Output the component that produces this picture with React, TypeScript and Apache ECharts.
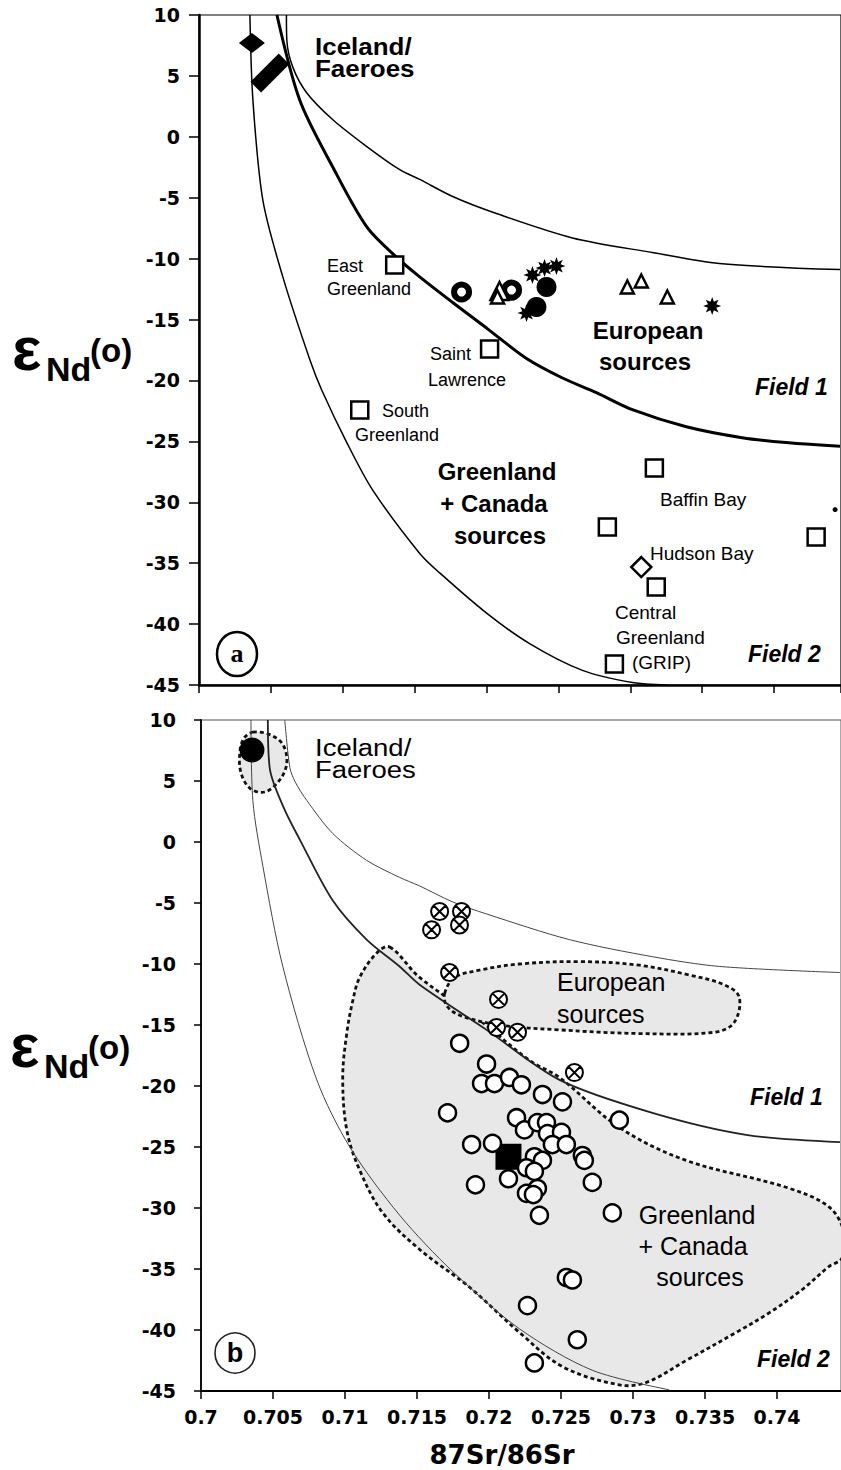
import React, { useEffect, useRef } from "react";
import * as echarts from "echarts";

// ---- axes ----
const X_MIN = 0.7;
const X_MAX_TOP = 0.74465;
const X_MAX_BOT = 0.74444;
const X_STEP = 0.005;
const Y_MIN = -45;
const Y_MAX = 10;
const Y_STEP = 5;
const X_AXIS_NAME = "87Sr/86Sr";

// ---- panel (a): mixing curves [87Sr/86Sr, eNd] ----
const topCurveLower = [[0.70354, 10], [0.70375, 3.0], [0.70444, -5.2], [0.70583, -11.5], [0.70771, -18.3], [0.70854, -20.8], [0.71028, -25.1], [0.71208, -29.0], [0.71535, -34.2], [0.71674, -35.8], [0.72, -39.1], [0.72299, -41.6], [0.72667, -43.8], [0.73014, -44.8], [0.7325, -45]];
const topCurveMid = [[0.70542, 10], [0.70701, 3.0], [0.70931, -2.5], [0.71167, -7.4], [0.71375, -9.9], [0.71535, -11.5], [0.71764, -13.6], [0.72, -15.7], [0.72278, -18.2], [0.72528, -19.8], [0.72764, -21.0], [0.73014, -22.4], [0.73389, -23.8], [0.73778, -24.7], [0.74083, -25.1], [0.74458, -25.4]];
const topCurveUpper = [[0.70608, 10], [0.70611, 7.9], [0.70653, 5.7], [0.7075, 3.6], [0.70931, 1.4], [0.71167, -0.8], [0.71396, -2.7], [0.71535, -3.5], [0.71764, -4.9], [0.72069, -6.3], [0.72597, -8.3], [0.73153, -9.5], [0.73618, -10.4], [0.74458, -10.9]];

// ---- panel (a): sources ----
const topSquares = [[0.71361, -10.53], [0.72021, -17.42], [0.71118, -22.43], [0.73167, -27.19], [0.7284, -32.04], [0.74292, -32.86], [0.7318, -36.96], [0.72889, -43.28]];
const topOpenDiamond = [[0.73076, -35.32]];
const topFilledDiamond = [[0.70368, 7.7]];
const topBar = [[0.70493, 5.24]];
const topRings = [[0.71826, -12.74], [0.72174, -12.58]];
const topTrianglesBig = [[0.7209, -12.66]];
const topTriangles = [[0.72076, -13.15], [0.72979, -12.33], [0.73076, -11.84], [0.73257, -13.15]];
const topFilledCircles = [[0.72417, -12.33], [0.72347, -13.97]];
const topAsterisks = [[0.72319, -11.35], [0.72403, -10.77], [0.72486, -10.61], [0.72278, -14.47], [0.73569, -13.89]];
const topDot = [[0.74424, -30.6]];

// ---- panel (b): mixing curves ----
const botCurveLower = [[0.70347, 10], [0.7036, 3.4], [0.7043, -2.0], [0.70568, -10.2], [0.70804, -19.5], [0.71033, -25.0], [0.7138, -30.6], [0.71747, -35.2], [0.72211, -39.9], [0.72717, -43.3], [0.73251, -44.9]];
const botCurveMid = [[0.70464, 10], [0.70478, 6.0], [0.70575, 2.8], [0.70686, 0.2], [0.70915, -4.8], [0.7115, -8.0], [0.71379, -10.2], [0.71518, -11.7], [0.71983, -15.4], [0.72489, -19.5], [0.73134, -22.2], [0.73785, -24.0], [0.74437, -24.6]];
const botCurveUpper = [[0.70582, 10], [0.70617, 6.1], [0.70655, 4.9], [0.70735, 3.4], [0.70915, 0.7], [0.7115, -1.5], [0.71379, -2.9], [0.71518, -3.6], [0.71745, -4.9], [0.71983, -5.9], [0.72558, -8.0], [0.73134, -9.4], [0.73599, -10.2], [0.74437, -10.7]];

// ---- panel (b): source fields ----
const botIcelandField = [[0.7036, 9.0], [0.70478, 8.8], [0.70568, 8.0], [0.70596, 6.5], [0.70548, 5.1], [0.70444, 4.1], [0.7034, 4.4], [0.70277, 5.7], [0.7027, 7.4], [0.70298, 8.5]];
const botEuropeField = [[0.71692, -12.4], [0.71761, -11.1], [0.71934, -10.5], [0.72211, -10.0], [0.72627, -9.8], [0.73043, -10.1], [0.7339, -10.9], [0.73633, -11.7], [0.73737, -12.7], [0.73702, -14.8], [0.73563, -15.6], [0.73043, -15.7], [0.72489, -15.4], [0.72073, -15.0], [0.71796, -14.2], [0.71705, -13.4]];
const botGreenlandField = [[0.7131, -8.6], [0.71518, -11.1], [0.71934, -14.6], [0.72281, -17.9], [0.72489, -19.3], [0.72905, -23.4], [0.73369, -26.1], [0.74062, -28.3], [0.7436, -29.9], [0.74465, -32.0], [0.74451, -34.1], [0.7436, -34.8], [0.74173, -36.7], [0.73945, -38.6], [0.73716, -40.2], [0.73369, -42.5], [0.73092, -44.3], [0.72905, -44.5], [0.7251, -43.0], [0.72211, -40.2], [0.71865, -36.5], [0.71518, -33.4], [0.71262, -30.4], [0.71102, -26.9], [0.71012, -23.6], [0.70984, -19.3], [0.71012, -15.7], [0.71054, -13.0], [0.71102, -11.1], [0.7122, -9.1]];

// ---- panel (b): samples ----
const botIcelandPoint = [[0.70354, 7.54]];
const botCrossed = [[0.71657, -5.7], [0.71809, -5.7], [0.71601, -7.2], [0.71795, -6.8], [0.71726, -10.7], [0.72066, -12.9], [0.72052, -15.2], [0.72198, -15.6], [0.72593, -18.9]];
const botOpen = [[0.71796, -16.5], [0.71983, -18.2], [0.71948, -19.8], [0.72038, -19.8], [0.72142, -19.3], [0.72225, -19.9], [0.72371, -20.7], [0.7251, -21.3], [0.71712, -22.2], [0.72191, -22.6], [0.72246, -23.6], [0.72336, -23.0], [0.72399, -23.0], [0.72406, -23.9], [0.72503, -23.8], [0.7244, -24.8], [0.72537, -24.8], [0.72648, -25.7], [0.72662, -26.1], [0.72905, -22.8], [0.71879, -24.8], [0.72024, -24.7], [0.72315, -25.8], [0.72371, -26.1], [0.7226, -26.7], [0.72315, -27.0], [0.72135, -27.6], [0.71906, -28.1], [0.72717, -27.9], [0.7226, -28.8], [0.72336, -28.4], [0.72308, -28.9], [0.7235, -30.6], [0.72856, -30.4], [0.72537, -35.7], [0.72579, -35.9], [0.72267, -38.0], [0.72613, -40.8], [0.72315, -42.7]];
const botSquare = [[0.72135, -25.8]];

// ---- annotation texts ----
const SANS = "'Liberation Sans', Arial, sans-serif";
const TICK_FONT = "'DejaVu Sans', sans-serif";

type Lbl = { t: string; x: number; y: number; s: number; w?: string; i?: boolean; a?: string; f?: string; sx?: number };
const labels: Lbl[] = [
  // panel a
  { t: "Iceland/", x: 315, y: 46, s: 22, w: "bold", sx: 1.18 },
  { t: "Faeroes", x: 315, y: 68, s: 22, w: "bold", sx: 1.18 },
  { t: "East", x: 327, y: 266, s: 18 },
  { t: "Greenland", x: 327, y: 289, s: 18 },
  { t: "Saint", x: 430, y: 354, s: 18 },
  { t: "Lawrence", x: 428, y: 380, s: 18 },
  { t: "South", x: 382, y: 411, s: 18 },
  { t: "Greenland", x: 355, y: 435, s: 18 },
  { t: "European", x: 648, y: 330, s: 24, w: "bold", a: "center" },
  { t: "sources", x: 645, y: 361, s: 24, w: "bold", a: "center" },
  { t: "Field 1", x: 755, y: 387, s: 23, w: "bold", i: true },
  { t: "Greenland", x: 497, y: 471, s: 24, w: "bold", a: "center" },
  { t: "+ Canada", x: 494, y: 503, s: 24, w: "bold", a: "center" },
  { t: "sources", x: 500, y: 535, s: 24, w: "bold", a: "center" },
  { t: "Baffin Bay", x: 660, y: 499, s: 19 },
  { t: "Hudson Bay", x: 650, y: 553, s: 19 },
  { t: "Central", x: 615, y: 612, s: 19 },
  { t: "Greenland", x: 616, y: 637, s: 19 },
  { t: "(GRIP)", x: 632, y: 662, s: 19 },
  { t: "Field 2", x: 748, y: 654, s: 23, w: "bold", i: true },
  { t: "a", x: 237, y: 653, s: 26, w: "bold", a: "center", f: "'Liberation Serif', serif" },
  // panel b
  { t: "Iceland/", x: 315, y: 748, s: 22, sx: 1.25 },
  { t: "Faeroes", x: 315, y: 770, s: 22, sx: 1.25 },
  { t: "European", x: 557, y: 982, s: 25 },
  { t: "sources", x: 557, y: 1014, s: 25 },
  { t: "Field 1", x: 750, y: 1097, s: 23, w: "bold", i: true },
  { t: "Greenland", x: 697, y: 1215, s: 25, a: "center" },
  { t: "+ Canada", x: 693, y: 1246, s: 25, a: "center" },
  { t: "sources", x: 700, y: 1277, s: 25, a: "center" },
  { t: "Field 2", x: 757, y: 1359, s: 23, w: "bold", i: true },
  { t: "b", x: 235, y: 1353, s: 27, w: "bold", a: "center" },
  // x axis name
  { t: X_AXIS_NAME, x: 502, y: 1455, s: 26, w: "bold", a: "center", f: TICK_FONT },
];

// asterisk symbol shape
const asteriskSymbol = (() => {
  let d = "";
  for (let k = 0; k < 16; k++) {
    const ang = (k * Math.PI) / 8 - Math.PI / 2;
    const r = k % 2 === 0 ? 10 : 5;
    d += (k === 0 ? "M" : "L") + (r * Math.cos(ang)).toFixed(2) + "," + (r * Math.sin(ang)).toFixed(2) + " ";
  }
  return "path://" + d + "Z";
})();
const crossedSymbol = "path://M0,-10 A10,10 0 1,1 0,10 A10,10 0 1,1 0,-10 Z M-7.07,-7.07 L7.07,7.07 M7.07,-7.07 L-7.07,7.07";

function textEl(l: Lbl) {
  const el: any = {
    type: "text",
    x: l.x,
    y: l.y,
    z: 100,
    style: {
      text: l.t,
      fill: "#000",
      fontSize: l.s,
      fontFamily: l.f || SANS,
      fontWeight: l.w || "normal",
      fontStyle: l.i ? "italic" : "normal",
      textAlign: l.a || "left",
      align: l.a || "left",
      textVerticalAlign: "middle",
      verticalAlign: "middle",
    },
  };
  if (l.sx) {
    el.scaleX = l.sx;
    el.scaleY = 1.1;
  }
  return el;
}

function yLabelEls(dy: number, dx: number) {
  const mk = (t: string, x: number, y: number, s: number) => ({
    type: "text",
    x: x + dx,
    y: y + dy,
    z: 100,
    style: {
      text: t, fill: "#000", fontSize: s, fontFamily: SANS, fontWeight: "bold",
      textAlign: "left", align: "left", textVerticalAlign: "middle", verticalAlign: "middle",
    },
  });
  return [mk("\u03b5", 12, 348, 62), mk("Nd", 46, 369, 34), mk("(o)", 90, 350, 33)];
}

function lineSeries(data: number[][], ax: number, width: number, color: string) {
  return {
    type: "line", xAxisIndex: ax, yAxisIndex: ax, data, showSymbol: false, symbol: "none",
    smooth: 0.3, lineStyle: { width, color }, z: 2, silent: true, animation: false,
  };
}

function scatter(data: number[][], ax: number, symbol: string, size: any, item: any, extra: any = {}) {
  return {
    type: "scatter", xAxisIndex: ax, yAxisIndex: ax, data, symbol, symbolSize: size,
    itemStyle: { opacity: 1, ...item }, z: 4, silent: true, ...extra,
  };
}

function region(points: number[][], ax: number, dash: number[]) {
  return {
    type: "custom", xAxisIndex: ax, yAxisIndex: ax, clip: true, z: 1, silent: true,
    data: [[points[0][0], points[0][1]]],
    renderItem: (_p: any, api: any) => ({
      type: "polygon",
      shape: { points: points.map((p) => api.coord(p)), smooth: 0.35 },
      style: { fill: "#e8e8e8", stroke: "#111", lineWidth: 2.8, lineDash: dash },
    }),
  };
}

const fmtX = (v: number) => String(Number(v.toFixed(3)));

function xAxis(gi: number, max: number, showLabels: boolean, lw: number) {
  return {
    type: "value", gridIndex: gi, min: X_MIN, max, interval: X_STEP,
    axisLine: { show: true, onZero: false, lineStyle: { color: "#000", width: lw } },
    axisTick: { show: true, length: 8, lineStyle: { color: "#000", width: 1.5 } },
    splitLine: { show: false },
    axisLabel: {
      show: showLabels, showMaxLabel: false, formatter: fmtX, color: "#000",
      fontFamily: TICK_FONT, fontWeight: "bold", fontSize: 19, margin: 16,
    },
  };
}

function yAxis(gi: number, margin: number, lw: number, tick: number) {
  return {
    type: "value", gridIndex: gi, min: Y_MIN, max: Y_MAX, interval: Y_STEP,
    axisLine: { show: true, onZero: false, lineStyle: { color: "#000", width: lw } },
    axisTick: { show: true, length: tick, lineStyle: { color: "#000", width: 1.5 } },
    splitLine: { show: false },
    axisLabel: { color: "#000", fontFamily: TICK_FONT, fontWeight: "bold", fontSize: 19, margin },
  };
}

export default function App() {
  const ref = useRef<HTMLDivElement>(null);
  useEffect(() => {
    if (!ref.current) return;
    const chart = echarts.init(ref.current, null, { renderer: "svg" });
    const open = { color: "#fff", borderColor: "#000", borderWidth: 2.5 };
    const black = { color: "#000" };
    chart.setOption({
      animation: false,
      backgroundColor: "#fff",
      grid: [
        { left: 199, top: 15, width: 643, height: 670, show: true, borderColor: "#000", borderWidth: 1.2, backgroundColor: "transparent" },
        { left: 201, top: 720, width: 641, height: 671, show: true, borderColor: "#555", borderWidth: 1, backgroundColor: "transparent" },
      ],
      xAxis: [xAxis(0, X_MAX_TOP, false, 2.5), xAxis(1, X_MAX_BOT, true, 1.8)],
      yAxis: [yAxis(0, 19, 2.5, 10), yAxis(1, 25, 1.8, 7)],
      series: [
        // panel a
        lineSeries(topCurveLower, 0, 1.5, "#000"),
        lineSeries(topCurveMid, 0, 3, "#000"),
        lineSeries(topCurveUpper, 0, 1.5, "#000"),
        scatter(topSquares, 0, "rect", 17, open),
        scatter(topOpenDiamond, 0, "diamond", 20, open),
        scatter(topFilledDiamond, 0, "diamond", [26, 20], black),
        scatter(topBar, 0, "rect", [40, 15], black, { symbolRotate: 45 }),
        scatter(topRings, 0, "circle", 15, { color: "#fff", borderColor: "#000", borderWidth: 6 }),
        scatter(topTrianglesBig, 0, "triangle", 18, open),
        scatter(topTriangles, 0, "triangle", 13, open),
        scatter(topFilledCircles, 0, "circle", 20, black),
        scatter(topAsterisks, 0, asteriskSymbol, 18, black),
        scatter(topDot, 0, "circle", 5, black),
        // panel b
        region(botGreenlandField, 1, [4, 3]),
        region(botEuropeField, 1, [4, 3]),
        region(botIcelandField, 1, [4, 3]),
        lineSeries(botCurveLower, 1, 1, "#444"),
        lineSeries(botCurveMid, 1, 1.8, "#222"),
        lineSeries(botCurveUpper, 1, 1, "#444"),
        scatter(botIcelandPoint, 1, "circle", 25, black),
        scatter(botSquare, 1, "rect", 26, black, { z: 3 }),
        scatter(botOpen, 1, "circle", 17, open),
        scatter(botCrossed, 1, crossedSymbol, 17, { color: "#fff", borderColor: "#000", borderWidth: 2 }),
      ],
      graphic: [
        ...labels.map(textEl),
        ...yLabelEls(0, 0),
        ...yLabelEls(697, -2),
        { type: "ellipse", z: 99, shape: { cx: 237, cy: 654, rx: 20, ry: 22 }, style: { fill: "transparent", stroke: "#000", lineWidth: 2.5 } },
        { type: "circle", z: 99, shape: { cx: 235, cy: 1353, r: 20 }, style: { fill: "transparent", stroke: "#222", lineWidth: 1.6 } },
      ],
    });
    return () => chart.dispose();
  }, []);
  return (
    <div
      ref={ref}
      style={{ position: "absolute", left: 0, top: 0, width: 841, height: 1470, background: "#fff" }}
    />
  );
}
